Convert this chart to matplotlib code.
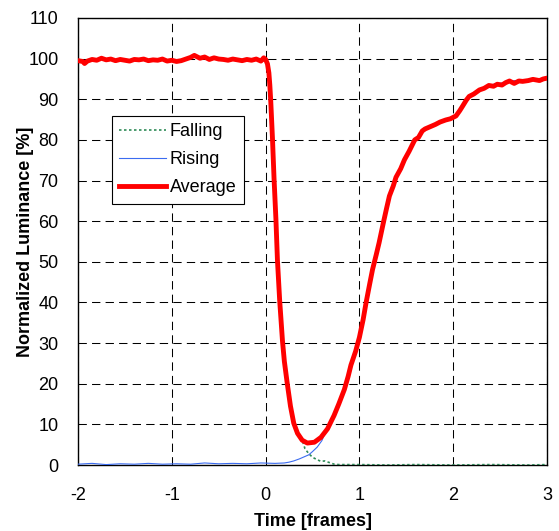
import matplotlib
matplotlib.use('Agg')
import matplotlib.pyplot as plt

# Average luminance response (time in frames, luminance in %)
time_avg = [-2.00, -1.95, -1.93, -1.90, -1.85, -1.80, -1.75, -1.70, -1.65, -1.60,
            -1.55, -1.50, -1.45, -1.40, -1.35, -1.30, -1.25, -1.20, -1.15, -1.10,
            -1.05, -1.00, -0.95, -0.90, -0.85, -0.80, -0.76, -0.70, -0.65, -0.60,
            -0.55, -0.50, -0.45, -0.40, -0.35, -0.30, -0.25, -0.20, -0.15, -0.10,
            -0.05, -0.02, 0.00, 0.02, 0.035, 0.045, 0.055, 0.073, 0.09, 0.11,
            0.126, 0.15, 0.18, 0.20, 0.23, 0.265, 0.30, 0.34, 0.39, 0.445,
            0.52, 0.59, 0.66, 0.73, 0.78, 0.84, 0.88, 0.91, 0.96, 1.00,
            1.04, 1.07, 1.11, 1.14, 1.18, 1.21, 1.26, 1.29, 1.32, 1.36,
            1.39, 1.44, 1.48, 1.53, 1.59, 1.63, 1.67, 1.70, 1.74, 1.78,
            1.81, 1.86, 1.92, 1.97, 2.03, 2.07, 2.10, 2.14, 2.17, 2.22,
            2.28, 2.33, 2.38, 2.43, 2.47, 2.52, 2.56, 2.60, 2.65, 2.70,
            2.74, 2.80, 2.85, 2.92, 2.96, 3.00]
average = [99.5, 99.3, 98.8, 99.4, 99.8, 99.6, 100.1, 99.7, 99.9, 99.5,
           99.8, 99.6, 99.4, 99.8, 99.7, 99.9, 99.5, 99.7, 99.6, 99.9,
           99.4, 99.6, 99.3, 99.5, 99.9, 100.3, 100.8, 100.1, 100.4, 99.8,
           100.2, 99.9, 99.8, 99.6, 99.9, 99.7, 99.5, 99.8, 99.6, 99.9,
           99.4, 100.2, 99.8, 98.7, 96.5, 93.5, 89.5, 80.5, 70.5, 60.5,
           50.5, 40.5, 30.5, 25.5, 20.2, 14.5, 10.3, 7.8, 6.1, 5.4,
           5.6, 6.8, 8.9, 12.2, 15.0, 18.6, 21.8, 24.6, 28.0, 31.4,
           35.8, 39.8, 44.6, 48.1, 51.8, 54.7, 60.1, 63.2, 66.2, 68.6,
           70.8, 72.9, 75.1, 77.2, 80.0, 80.6, 82.2, 82.7, 83.1, 83.5,
           83.8, 84.4, 84.9, 85.2, 85.9, 87.2, 88.3, 89.8, 90.7, 91.3,
           92.3, 92.7, 93.4, 93.2, 93.7, 93.5, 94.1, 94.5, 93.9, 94.5,
           94.4, 94.6, 94.9, 94.6, 95.0, 95.2]

# Rising edge response
time_rise = [-2.00, -1.85, -1.70, -1.55, -1.40, -1.25, -1.10, -0.95, -0.80, -0.65,
             -0.50, -0.35, -0.20, -0.05, 0.10, 0.20, 0.25, 0.30, 0.36, 0.40,
             0.46, 0.50, 0.55, 0.60, 0.64, 0.71, 0.78, 0.84, 0.91, 1.00,
             1.07, 1.14, 1.21, 1.26, 1.32, 1.39, 1.48, 1.59, 1.67, 1.74,
             1.81, 1.92, 2.03, 2.10, 2.17, 2.28, 2.38, 2.47, 2.56, 2.65,
             2.74, 2.85, 2.92, 3.00]
rising = [0.2, 0.4, 0.1, 0.3, 0.2, 0.4, 0.2, 0.3, 0.2, 0.5,
          0.3, 0.4, 0.3, 0.5, 0.4, 0.5, 0.7, 1.0, 1.5, 1.9,
          2.5, 3.3, 4.4, 6.0, 8.2, 11.6, 15.1, 18.7, 24.7, 31.5,
          39.9, 48.2, 54.8, 60.2, 66.3, 70.9, 75.2, 80.1, 82.3, 83.2,
          83.9, 85.0, 86.0, 88.4, 90.8, 92.4, 93.5, 93.8, 94.2, 94.6,
          94.5, 95.0, 94.7, 95.3]

# Falling edge response after it leaves the average curve
time_fall_tail = [0.42, 0.46, 0.50, 0.55, 0.59, 0.63, 0.68, 0.73, 0.78, 1.0,
                  1.3, 1.6, 2.0, 2.4, 2.8, 3.0]
falling_tail = [4.0, 2.8, 1.9, 1.3, 0.9, 1.0, 0.6, 0.2, 0.1, 0.1,
                0.0, 0.1, 0.0, 0.1, 0.0, 0.1]

x_ticks = [-2, -1, 0, 1, 2, 3]
y_ticks = list(range(0, 111, 10))

plt.rcParams['font.family'] = ['Liberation Sans', 'DejaVu Sans']
plt.rcParams['font.size'] = 13
plt.rcParams['axes.unicode_minus'] = False

n_fall = time_avg.index(0.39) + 1
time_fall = time_avg[:n_fall] + time_fall_tail
falling = average[:n_fall] + falling_tail

fig = plt.figure(figsize=(5.59, 5.31), dpi=100)
ax = fig.add_axes([78 / 559, 1 - 465 / 531, 469 / 559, 447 / 531])

ax.plot(time_fall, falling, color='#2E8B57', lw=1.2, ls=(0, (1.5, 1.5)),
        label='Falling', zorder=3)
ax.plot(time_rise, rising, color='#3B6CF0', lw=0.8, label='Rising', zorder=4)
ax.plot(time_avg, average, color='#FF0000', lw=3.5, label='Average', zorder=5)

ax.set_xlim(-2, 3)
ax.set_ylim(0, 110)
ax.set_xticks(x_ticks)
ax.set_yticks(y_ticks)
ax.tick_params(length=0)
ax.tick_params(axis='x', pad=16)
ax.tick_params(axis='y', pad=14)
ax.grid(True, color='k', lw=0.75, ls=(0, (8, 5)))
for s in ax.spines.values():
    s.set_linewidth(1.0)
    s.set_color('k')

ax.set_xlabel('Time [frames]', fontweight='bold', labelpad=6)
ax.set_ylabel('Normalized Luminance [%]', fontweight='bold')
ax.yaxis.set_label_coords(-0.094, 0.5)

leg = ax.legend(loc='upper left', bbox_to_anchor=(0.0725, 0.7814),
                borderaxespad=0, fancybox=False, framealpha=1,
                edgecolor='k', handlelength=2.6, handletextpad=0.2,
                labelspacing=0.62, borderpad=0.4)
leg.get_frame().set_linewidth(0.8)

fig.savefig('out.png', dpi=100)
